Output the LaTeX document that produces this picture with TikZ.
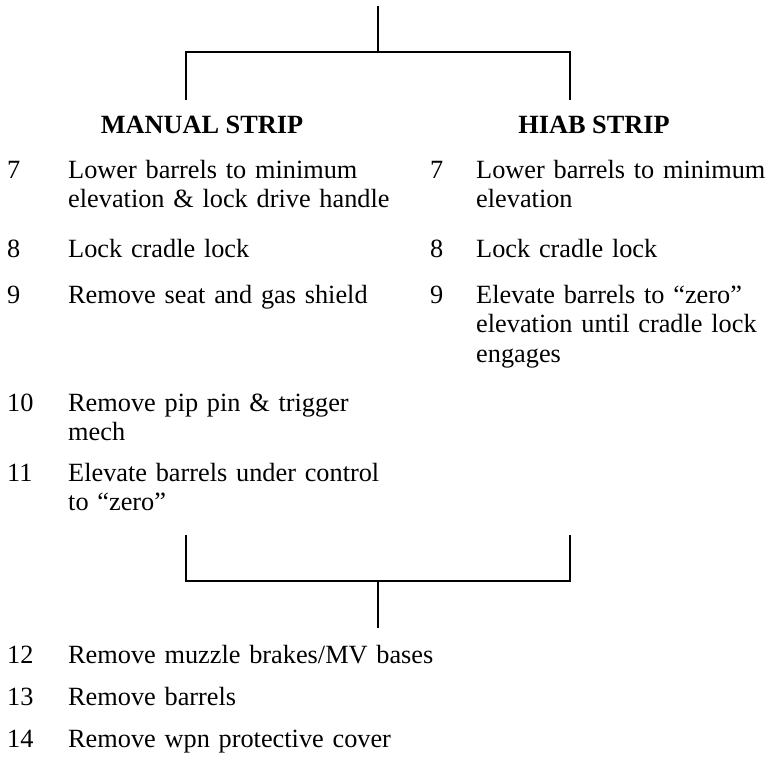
\documentclass[tikz,border=0pt]{standalone}
\usepackage{fontspec}
\setmainfont{Liberation Serif}
\begin{document}
\begin{tikzpicture}[x=1pt,y=-1pt,
  txt/.style={anchor=base west,inner sep=0pt,align=left,text width=450pt,
    font=\fontsize{26.3}{29.5}\selectfont},
  num/.style={anchor=base west,inner sep=0pt,font=\fontsize{26.3}{29.5}\selectfont},
  head/.style={anchor=base,inner sep=0pt,font=\fontsize{26.3}{29.5}\selectfont\bfseries},
  conn/.style={line width=2pt,line join=miter}]
\useasboundingbox (0,0) rectangle (772,760);
% connectors
\coordinate (t0) at (378,6);
\coordinate (t1) at (378,52);
\coordinate (tl) at (186,100);
\coordinate (tr) at (570,100);
\draw[conn] (t0) -- (t1);
\draw[conn] (tl) |- (t1) -| (tr);
\coordinate (bl) at (186,535);
\coordinate (br) at (570,535);
\coordinate (b1) at (378,581);
\coordinate (b0) at (378,628);
\draw[conn] (bl) |- (b1) -| (br);
\draw[conn] (b1) -- (b0);
% headers
\node[head] (hm) at (202,134) {MANUAL STRIP};
\node[head] (hh) at (594,134) {HIAB STRIP};
% left column
\node[num] (n7) at (7,178) {7};
\node[txt] (m7) at (68,178) {Lower barrels to minimum\\elevation \& lock drive handle};
\node[num] (n8) at (7,257) {8};
\node[txt] (m8) at (68,257) {Lock cradle lock};
\node[num] (n9) at (7,303) {9};
\node[txt] (m9) at (68,303) {Remove seat and gas shield};
\node[num] (n10) at (7,411) {10};
\node[txt] (m10) at (68,411) {Remove pip pin \& trigger\\mech};
\node[num] (n11) at (7,481) {11};
\node[txt] (m11) at (68,481) {Elevate barrels under control\\to “zero”};
% right column
\node[num] (r7n) at (430,178) {7};
\node[txt] (r7) at (476,178) {Lower barrels to minimum\\elevation};
\node[num] (r8n) at (430,257) {8};
\node[txt] (r8) at (476,257) {Lock cradle lock};
\node[num] (r9n) at (430,303) {9};
\node[txt] (r9) at (476,303) {Elevate barrels to “zero”\\elevation until cradle lock\\engages};
% bottom
\node[num] (n12) at (7,663) {12};
\node[txt] (m12) at (68,663) {Remove muzzle brakes/MV bases};
\node[num] (n13) at (7,705) {13};
\node[txt] (m13) at (68,705) {Remove barrels};
\node[num] (n14) at (7,747) {14};
\node[txt] (m14) at (68,747) {Remove wpn protective cover};
\end{tikzpicture}
\end{document}
